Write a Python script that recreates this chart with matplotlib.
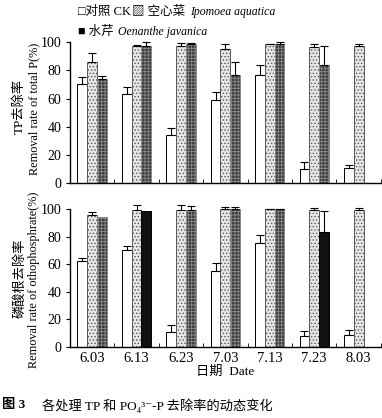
import numpy as np
import matplotlib.pyplot as plt

plt.rcParams['font.family'] = ['Liberation Serif', 'Noto Sans CJK SC', 'DejaVu Sans']
plt.rcParams['hatch.linewidth'] = 0.6

dates = ['6.03', '6.13', '6.23', '7.03', '7.13', '7.23', '8.03']

# TP 去除率 (%)
tp_ck = [70.5, 63, 34, 59, 77, 10, 11]
tp_ck_err = [5, 5, 5, 6, 7, 5, 2]
tp_ipo = [86, 97.5, 97.5, 95, 98.5, 96.5, 97]
tp_ipo_err = [6.5, 0.5, 2, 4, 0.5, 2.5, 1.5]
tp_oe = [74, 97, 98.5, 77, 98.5, 84, 0]
tp_oe_err = [2, 3, 1, 9, 1.5, 13, 0]

# 磷酸根去除率 (%)
po_ck = [62, 70, 11, 55, 75.5, 8, 8.5]
po_ck_err = [2.5, 3.5, 5, 5.5, 5.5, 3.5, 3.5]
po_ipo = [96, 99, 99.6, 100, 100, 99, 99]
po_ipo_err = [2, 4, 3, 1.5, 0.3, 2, 1.5]
po_oe = [94.5, 98.5, 99.5, 100, 100, 83.5, 0]
po_oe_err = [0, 0, 2.5, 1.5, 0.3, 15, 0]

x = np.arange(len(dates))
w = 0.22

fig = plt.figure(figsize=(3.82, 4.18), dpi=100)
ax1 = fig.add_axes([0.183, 0.562, 0.814, 0.337])
ax2 = fig.add_axes([0.183, 0.170, 0.814, 0.330])

def draw(ax, ck, ck_e, ipo, ipo_e, oe, oe_e, black_oe=()):
    ekw = dict(elinewidth=0.8, capthick=0.8, capsize=3, ecolor='black')
    ax.bar(x - w, ck, w, color='white', edgecolor='black', linewidth=0.7)
    ax.errorbar(x - w, ck, yerr=[np.zeros(len(ck)), ck_e], fmt='none', clip_on=False, **ekw)
    ax.bar(x, ipo, w, color='#e6e6e6', edgecolor='#5a5a5a', hatch='.....', linewidth=0.7)
    ax.errorbar(x, ipo, yerr=[np.zeros(len(ipo)), ipo_e], fmt='none', clip_on=False, **ekw)
    cols = ['#111111' if i in black_oe else '#3c3c3c' for i in range(len(oe))]
    bars = ax.bar(x + w, oe, w, color=cols, edgecolor='#8a8a8a', hatch='+++++', linewidth=0.7)
    for i, b in enumerate(bars):
        if i in black_oe:
            b.set_hatch(None)
            b.set_edgecolor('black')
    keep = [i for i in range(len(oe)) if oe_e[i] > 0]
    ax.errorbar(x[keep] + w, np.array(oe)[keep], yerr=[np.zeros(len(keep)), np.array(oe_e)[keep]],
                fmt='none', clip_on=False, **ekw)
    ax.set_xlim(-0.5, 6.5)
    ax.set_ylim(0, 100)
    ax.set_yticks([0, 20, 40, 60, 80, 100])
    ax.spines['top'].set_visible(False)
    ax.spines['right'].set_visible(False)
    ax.spines['left'].set_linewidth(1.0)
    ax.spines['bottom'].set_linewidth(1.0)
    ax.tick_params(axis='y', direction='out', length=3, labelsize=10, pad=3)
    ax.set_xticks(x + 0.5, minor=True)
    ax.tick_params(axis='x', which='minor', direction='in', length=3)
    ax.tick_params(axis='x', which='major', length=0, labelsize=10.5, pad=4)

draw(ax1, tp_ck, tp_ck_err, tp_ipo, tp_ipo_err, tp_oe, tp_oe_err)
ax1.set_xticks(x)
ax1.set_xticklabels([])
draw(ax2, po_ck, po_ck_err, po_ipo, po_ipo_err, po_oe, po_oe_err, black_oe=(1, 5))
ax2.set_xticks(x)
ax2.set_xticklabels(dates)

# y labels
fig.text(0.052, 0.745, 'TP去除率', rotation=90, ha='center', va='center', fontsize=9.5)
fig.text(0.089, 0.740, 'Removal rate of total P(%)', rotation=90, ha='center', va='center', fontsize=8.8)
fig.text(0.052, 0.335, '磷酸根去除率', rotation=90, ha='center', va='center', fontsize=9.5)
fig.text(0.089, 0.330, 'Removal rate of othophosphrate(%)', rotation=90, ha='center', va='center', fontsize=8.8)

# x label
fig.text(0.59, 0.110, '日期  Date', ha='center', va='center', fontsize=9.5)

# legend
fig.text(0.205, 0.971, '□对照 CK', ha='left', va='center', fontsize=9)
fig.text(0.345, 0.971, '▨ 空心菜', ha='left', va='center', fontsize=9)
fig.text(0.497, 0.971, 'Ipomoea aquatica', ha='left', va='center', fontsize=8.5, style='italic')
fig.text(0.205, 0.923, '■ 水芹', ha='left', va='center', fontsize=9)
fig.text(0.31, 0.923, 'Oenanthe javanica', ha='left', va='center', fontsize=8.5, style='italic')

# caption
fig.text(0.005, 0.030, '图 3', ha='left', va='center', fontsize=9.5, fontweight='bold')
fig.text(0.11, 0.030, '各处理 TP 和 PO₄³⁻-P 去除率的动态变化', ha='left', va='center', fontsize=9.5)

fig.savefig('out.png', dpi=100)
